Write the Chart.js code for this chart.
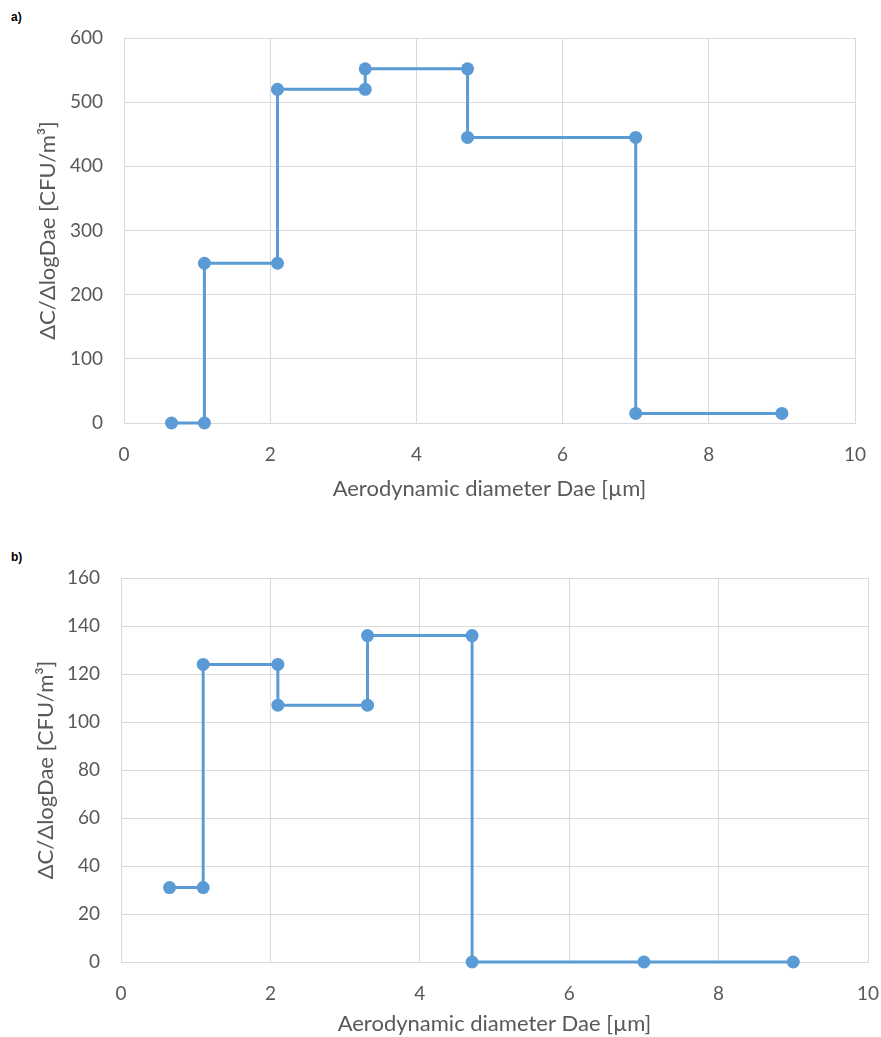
<!DOCTYPE html>
<html>
<head>
<meta charset="utf-8">
<script src="https://cdn.jsdelivr.net/npm/chart.js@4"></script>
<style>
  html, body { margin: 0; padding: 0; background: #fff; overflow: hidden; }
  body { width: 881px; height: 1037px; position: relative; }
  canvas { position: absolute; left: 0; }
  .tag { position: absolute; left: 11px; font: bold 12px "Liberation Sans", Arial, sans-serif; color: #000; }
</style>
</head>
<body>
<div class="tag" style="top:10px">a)</div>
<div class="tag" style="top:550px">b)</div>
<canvas id="chartA" width="881" height="520" style="top:0"></canvas>
<canvas id="chartB" width="881" height="507" style="top:530px"></canvas>
<script>
// step curves, aerodynamic diameter vs concentration
const xA = [0.65, 1.1, 1.1, 2.1, 2.1, 3.3, 3.3, 4.7, 4.7, 7.0, 7.0, 9.0];
const yA = [0, 0, 249, 249, 520, 520, 552, 552, 445, 445, 15, 15];
const xB = [0.65, 1.1, 1.1, 2.1, 2.1, 3.3, 3.3, 4.7, 4.7, 7.0, 9.0];
const yB = [31, 31, 124, 124, 107, 107, 136, 136, 0, 0, 0];
const xTicks = [0, 2, 4, 6, 8, 10];
const yTicksA = [0, 100, 200, 300, 400, 500, 600];
const yTicksB = [0, 20, 40, 60, 80, 100, 120, 140, 160];

const xTitle = 'Aerodynamic diameter Dae [µm]';
const yTitle = 'ΔC/ΔlogDae [CFU/m³]';

const grey = '#595959';
const gridCol = '#d9d9d9';
const blue = '#5b9bd5';
const fam = 'Lato, "Liberation Sans", sans-serif';

// box.pad = layout padding, yw = width of y axis, xh = height of x axis
function makeChart(id, xs, ys, yTicks, box) {
  const ctx = document.getElementById(id).getContext('2d');
  return new Chart(ctx, {
    type: 'scatter',
    data: {
      datasets: [{
        data: xs.map((x, i) => ({ x: x, y: ys[i] })),
        showLine: true,
        clip: false,
        borderColor: blue,
        backgroundColor: blue,
        borderWidth: 3,
        pointRadius: 6.5,
        pointHoverRadius: 6.5,
        pointBorderWidth: 0,
      }]
    },
    options: {
      responsive: false,
      animation: false,
      layout: { padding: box.pad },
      plugins: { legend: { display: false }, tooltip: { enabled: false } },
      scales: {
        x: {
          type: 'linear', min: xTicks[0], max: xTicks[xTicks.length - 1],
          afterBuildTicks: s => { s.ticks = xTicks.map(v => ({ value: v })); },
          afterFit: s => { s.height = box.xh; s.paddingLeft = 0; s.paddingRight = 0; },
          grid: { color: gridCol, drawTicks: false },
          border: { color: gridCol },
          ticks: { color: grey, font: { family: fam, size: 19 }, padding: 20 },
          title: { display: true, text: xTitle, color: grey, font: { family: fam, size: 22 }, padding: { top: 0, bottom: 0 } }
        },
        y: {
          type: 'linear', min: yTicks[0], max: yTicks[yTicks.length - 1],
          afterBuildTicks: s => { s.ticks = yTicks.map(v => ({ value: v })); },
          afterFit: s => { s.width = box.yw; s.paddingTop = 0; s.paddingBottom = 0; },
          grid: { color: gridCol, drawTicks: false },
          border: { color: gridCol },
          ticks: { color: grey, font: { family: fam, size: 19 }, padding: 21 },
          title: { display: true, text: yTitle, color: grey, font: { family: fam, size: 22 }, padding: { top: 3, bottom: 0 } }
        }
      }
    }
  });
}

makeChart('chartA', xA, yA, yTicksA, { pad: { left: 32, right: 26, top: 38, bottom: 18 }, yw: 92, xh: 79 });
makeChart('chartB', xB, yB, yTicksB, { pad: { left: 30, right: 13, top: 48, bottom: 0 }, yw: 91, xh: 75 });
</script>
</body>
</html>
